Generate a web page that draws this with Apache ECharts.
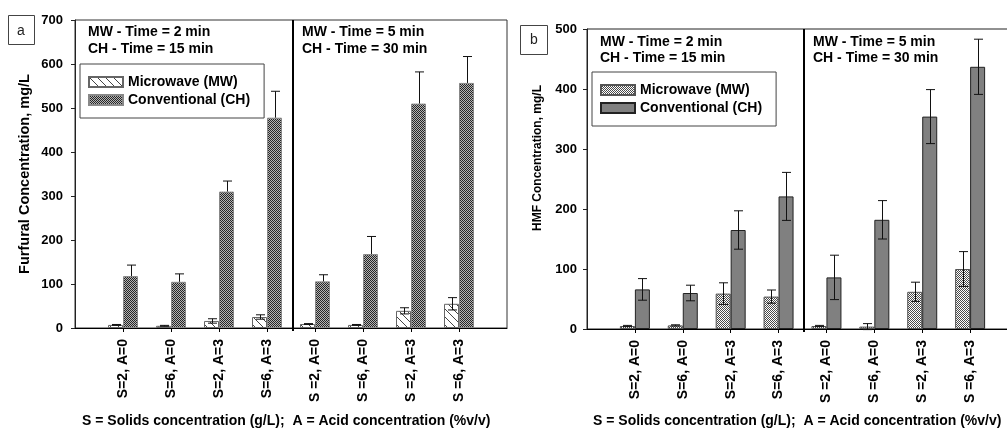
<!DOCTYPE html>
<html>
<head>
<meta charset="utf-8">
<script src="https://cdn.jsdelivr.net/npm/echarts@6/dist/echarts.min.js"></script>
<style>
  html, body { margin: 0; padding: 0; background: #fff; }
  #main { width: 1007px; height: 428px; }
</style>
</head>
<body>
<div id="main"></div>
<script>
const FONT = '"Liberation Sans", Arial, sans-serif';

// categories (left block: MW 2 min / CH 15 min, right block: MW 5 min / CH 30 min)
const categoriesA = ['S=2, A=0', 'S=6, A=0', 'S=2, A=3', 'S=6, A=3', 'S =2, A=0', 'S =6, A=0', 'S =2, A=3', 'S =6, A=3'];
const categoriesB = ['S=2, A=0', 'S=6, A=0', 'S=2, A=3', 'S=6, A=3', 'S =2, A=0', 'S =6, A=0', 'S =2, A=3', 'S =6, A=3'];

// (a) furfural, mg/L
const furfuralMW = [7, 5, 16, 25, 9, 7, 39, 55];
const furfuralMWErr = [1, 1, 5, 5, 1, 1, 7, 14];
const furfuralCH = [118, 105, 310, 478, 106, 168, 510, 557];
const furfuralCHErr = [25, 18, 24, 60, 15, 40, 72, 60];

// (b) HMF, mg/L
const hmfMW = [5, 6, 59, 54, 5, 4, 62, 100];
const hmfMWErr = [1, 1, 18, 11, 1, 5, 16, 29];
const hmfCH = [66, 60, 165, 221, 86, 182, 354, 437];
const hmfCHErr = [18, 13, 32, 40, 37, 32, 45, 46];

const headersA = ['MW - Time = 2 min', 'CH - Time = 15 min', 'MW - Time = 5 min', 'CH - Time = 30 min'];
const headersB = ['MW - Time = 2 min', 'CH - Time = 15 min', 'MW - Time = 5 min', 'CH - Time = 30 min'];
const xTitle = 'S = Solids concentration (g/L);  A = Acid concentration (%v/v)';

// fill patterns
function makePattern(size, draw) {
  const c = document.createElement('canvas');
  c.width = size;
  c.height = size;
  draw(c.getContext('2d'), size);
  return { image: c, repeat: 'repeat' };
}
const hatch = makePattern(8, (ctx, s) => {
  ctx.fillStyle = '#fff';
  ctx.fillRect(0, 0, s, s);
  ctx.strokeStyle = '#444';
  ctx.lineWidth = 1;
  ctx.beginPath();
  ctx.moveTo(-1, -1); ctx.lineTo(s + 1, s + 1);
  ctx.stroke();
});
function checker(dark, light) {
  return makePattern(2, (ctx) => {
    ctx.fillStyle = light;
    ctx.fillRect(0, 0, 2, 2);
    ctx.fillStyle = dark;
    ctx.fillRect(0, 0, 1, 1);
    ctx.fillRect(1, 1, 1, 1);
  });
}
const checkDark = checker('#262626', '#b4b4b4');
const checkLight = checker('#4a4a4a', '#ffffff');

const axisCats = (cats) => [''].concat(cats, ['']);
const pairs = (vals) => vals.map((v, i) => [i + 1, v]);

function errorBars(gi, vals, errs, dx, both) {
  return {
    type: 'custom',
    xAxisIndex: gi,
    yAxisIndex: gi,
    z: 5,
    silent: true,
    data: vals.map((v, i) => [i + 1, v, errs[i]]),
    renderItem: (params, api) => {
      const x = api.value(0), v = api.value(1), e = api.value(2);
      const top = api.coord([x, v + e]);
      const bot = api.coord([x, both ? v - e : v]);
      const cx = Math.round(top[0] + dx) + 0.5;
      const st = { stroke: '#111', lineWidth: 1 };
      const kids = [
        { type: 'line', shape: { x1: cx, y1: top[1], x2: cx, y2: bot[1] }, style: st },
        { type: 'line', shape: { x1: cx - 4.5, y1: top[1], x2: cx + 4.5, y2: top[1] }, style: st }
      ];
      if (both) {
        kids.push({ type: 'line', shape: { x1: cx - 4.5, y1: bot[1], x2: cx + 4.5, y2: bot[1] }, style: st });
      }
      return { type: 'group', children: kids };
    }
  };
}

function divider(gi, offset) {
  return {
    type: 'custom',
    xAxisIndex: gi,
    yAxisIndex: gi,
    z: 6,
    silent: true,
    data: [[4, 0]],
    renderItem: (params, api) => {
      const p4 = api.coord([4, 0]);
      const p5 = api.coord([5, 0]);
      const x = Math.round((p4[0] + p5[0]) / 2 + offset);
      const cs = params.coordSys;
      return {
        type: 'line',
        shape: { x1: x, y1: cs.y, x2: x, y2: cs.y + cs.height + 3 },
        style: { stroke: '#000', lineWidth: 2 }
      };
    }
  };
}

function xAxisFor(gi, cats) {
  return {
    type: 'category',
    gridIndex: gi,
    boundaryGap: false,
    data: axisCats(cats),
    axisLine: { lineStyle: { color: '#000', width: 1 } },
    axisTick: { length: 4, interval: (i, v) => v !== '', lineStyle: { color: '#000' } },
    axisLabel: {
      interval: 0, rotate: 90, margin: 11,
      fontFamily: FONT, fontSize: 14, fontWeight: 'bold', color: '#000'
    },
    splitLine: { show: false }
  };
}
function yAxisFor(gi, max, margin) {
  return {
    type: 'value',
    gridIndex: gi,
    min: 0, max: max, interval: 100,
    axisLine: { show: true, lineStyle: { color: '#222' } },
    axisTick: { show: true, length: 4, lineStyle: { color: '#222' } },
    axisLabel: { margin: margin, fontFamily: FONT, fontSize: 13, fontWeight: 'bold', color: '#000' },
    splitLine: { show: false }
  };
}

function legendFor(prefix, left, top) {
  return {
    orient: 'vertical',
    left: left, top: top,
    data: [prefix + 'Microwave (MW)', prefix + 'Conventional (CH)'],
    formatter: (n) => n.slice(2),
    icon: 'rect',
    itemWidth: 34, itemHeight: 10, itemGap: 4,
    padding: [11, 14, 11, 8],
    borderColor: '#444', borderWidth: 1,
    selectedMode: false,
    textStyle: { fontFamily: FONT, fontSize: 14, fontWeight: 'bold', color: '#000' }
  };
}

const txt = (text, x, y, size, weight, extra) => Object.assign({
  type: 'text', x: x, y: y,
  style: { text: text, font: weight + ' ' + size + 'px ' + FONT, fill: '#000', textVerticalAlign: 'middle' }
}, extra || {});

const chart = echarts.init(document.getElementById('main'), null, { renderer: 'canvas' });

chart.setOption({
  animation: false,
  backgroundColor: '#fff',
  grid: [
    { left: 75, top: 20, width: 432, height: 308, show: true, borderColor: '#333', borderWidth: 1,
      containLabel: false, outerBoundsMode: 'none' },
    { left: 587, top: 29, width: 431, height: 300, show: true, borderColor: '#222', borderWidth: 1,
      containLabel: false, outerBoundsMode: 'none' }
  ],
  xAxis: [xAxisFor(0, categoriesA), xAxisFor(1, categoriesB)],
  yAxis: [yAxisFor(0, 700, 12), yAxisFor(1, 500, 10)],
  legend: [legendFor('a:', 80, 64), legendFor('b:', 592, 72)],
  series: [
    {
      name: 'a:Microwave (MW)', type: 'bar', xAxisIndex: 0, yAxisIndex: 0,
      barWidth: 15, barGap: '0%', data: pairs(furfuralMW),
      itemStyle: { color: hatch, borderColor: '#666', borderWidth: 1 }
    },
    {
      name: 'a:Conventional (CH)', type: 'bar', xAxisIndex: 0, yAxisIndex: 0,
      barWidth: 15, barGap: '0%', data: pairs(furfuralCH),
      itemStyle: { color: checkDark, borderColor: '#888', borderWidth: 1 }
    },
    {
      name: 'b:Microwave (MW)', type: 'bar', xAxisIndex: 1, yAxisIndex: 1,
      barWidth: 15, barGap: '0%', data: pairs(hmfMW),
      itemStyle: { color: checkLight, borderColor: '#555', borderWidth: 1 }
    },
    {
      name: 'b:Conventional (CH)', type: 'bar', xAxisIndex: 1, yAxisIndex: 1,
      barWidth: 15, barGap: '0%', data: pairs(hmfCH),
      itemStyle: { color: '#808080', borderColor: '#222', borderWidth: 1 }
    },
    errorBars(0, furfuralMW, furfuralMWErr, -7.5, true),
    errorBars(0, furfuralCH, furfuralCHErr, 7.5, false),
    errorBars(1, hmfMW, hmfMWErr, -7.5, true),
    errorBars(1, hmfCH, hmfCHErr, 7.5, true),
    divider(0, 2),
    divider(1, 1.5)
  ],
  graphic: [
    // panel tags
    { type: 'rect', shape: { x: 8.5, y: 15.5, width: 26, height: 29 }, style: { fill: '#fff', stroke: '#444', lineWidth: 1 } },
    txt('a', 21, 31, 14, 'normal', { style: { text: 'a', font: 'normal 14px ' + FONT, fill: '#222', textAlign: 'center', textVerticalAlign: 'middle' } }),
    { type: 'rect', shape: { x: 520.5, y: 25.5, width: 27, height: 29 }, style: { fill: '#fff', stroke: '#444', lineWidth: 1 } },
    txt('b', 534, 40, 14, 'normal', { style: { text: 'b', font: 'normal 14px ' + FONT, fill: '#222', textAlign: 'center', textVerticalAlign: 'middle' } }),
    // block headers
    txt(headersA[0], 88, 32, 14, 'bold'),
    txt(headersA[1], 88, 49, 14, 'bold'),
    txt(headersA[2], 302, 32, 14, 'bold'),
    txt(headersA[3], 302, 49, 14, 'bold'),
    txt(headersB[0], 600, 42, 14, 'bold'),
    txt(headersB[1], 600, 58, 14, 'bold'),
    txt(headersB[2], 813, 42, 14, 'bold'),
    txt(headersB[3], 813, 58, 14, 'bold'),
    // axis titles
    { type: 'text', x: 25, y: 174, rotation: Math.PI / 2,
      style: { text: 'Furfural Concentration, mg/L', font: 'bold 14.5px ' + FONT, fill: '#000', textAlign: 'center', textVerticalAlign: 'middle' } },
    { type: 'text', x: 538, y: 158, rotation: Math.PI / 2,
      style: { text: 'HMF Concentration, mg/L', font: 'bold 12px ' + FONT, fill: '#000', textAlign: 'center', textVerticalAlign: 'middle' } },
    txt(xTitle, 82, 421, 14, 'bold'),
    txt(xTitle, 593, 421, 14, 'bold')
  ]
});
</script>
</body>
</html>
